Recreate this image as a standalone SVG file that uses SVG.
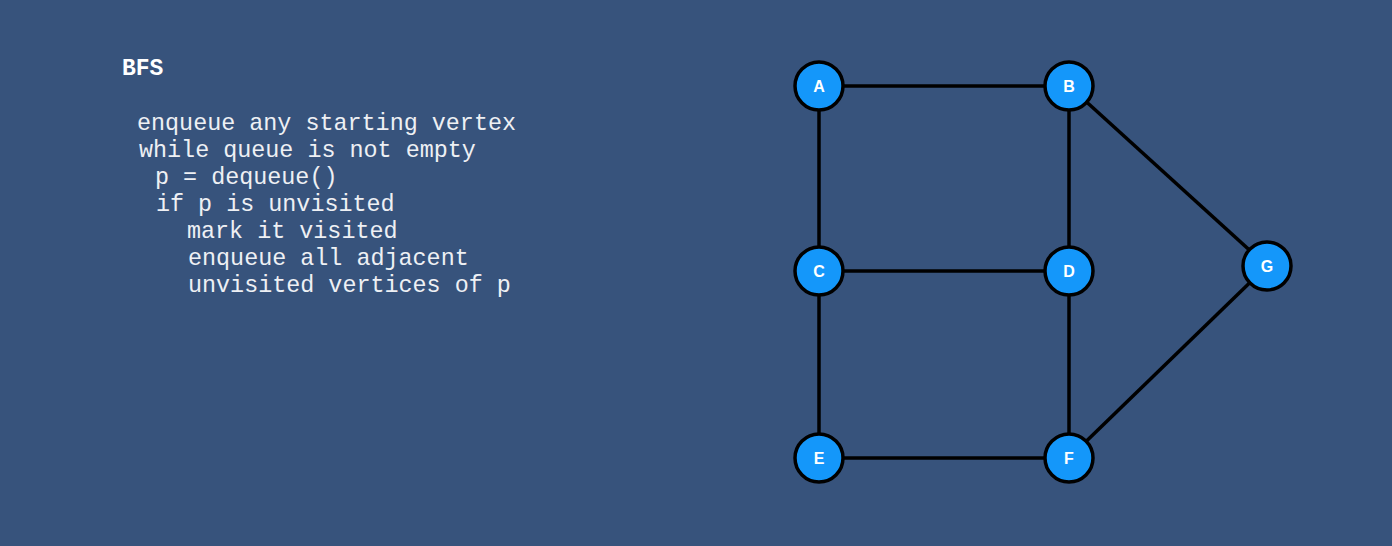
<svg xmlns="http://www.w3.org/2000/svg" width="1392" height="546" viewBox="0 0 1392 546">
<style>
.code{font-family:"Liberation Mono","Courier New",monospace;font-size:23.4px;fill:#eef0f4}
.title{font-family:"Liberation Mono","Courier New",monospace;font-size:23px;font-weight:bold;fill:#ffffff}
.node circle{fill:#1497fa;stroke:#000;stroke-width:3.5}
.node text{font-family:"Liberation Sans",Arial,sans-serif;font-size:16px;font-weight:bold;fill:#fff;text-anchor:middle;dominant-baseline:central}
#edges line{stroke:#000;stroke-width:3.5}
</style>
<rect width="1392" height="546" fill="#37537c"/>
<g id="code">
<text class="title" x="122" y="75">BFS</text>
<text class="code" x="137" y="130">enqueue any starting vertex</text>
<text class="code" x="139" y="157">while queue is not empty</text>
<text class="code" x="155" y="184">p = dequeue()</text>
<text class="code" x="156" y="211">if p is unvisited</text>
<text class="code" x="187" y="238">mark it visited</text>
<text class="code" x="188" y="265">enqueue all adjacent</text>
<text class="code" x="188" y="292">unvisited vertices of p</text>
</g>
<g id="edges">
<line x1="819" y1="86" x2="1069" y2="86"/>
<line x1="819" y1="86" x2="819" y2="271"/>
<line x1="1069" y1="86" x2="1069" y2="271"/>
<line x1="1069" y1="86" x2="1267" y2="266"/>
<line x1="819" y1="271" x2="1069" y2="271"/>
<line x1="819" y1="271" x2="819" y2="458"/>
<line x1="1069" y1="271" x2="1069" y2="458"/>
<line x1="819" y1="458" x2="1069" y2="458"/>
<line x1="1069" y1="458" x2="1267" y2="266"/>
</g>
<g id="node-A" class="node"><circle cx="819" cy="86" r="24"/><text x="819" y="86">A</text></g>
<g id="node-B" class="node"><circle cx="1069" cy="86" r="24"/><text x="1069" y="86">B</text></g>
<g id="node-C" class="node"><circle cx="819" cy="271" r="24"/><text x="819" y="271">C</text></g>
<g id="node-D" class="node"><circle cx="1069" cy="271" r="24"/><text x="1069" y="271">D</text></g>
<g id="node-E" class="node"><circle cx="819" cy="458" r="24"/><text x="819" y="458">E</text></g>
<g id="node-F" class="node"><circle cx="1069" cy="458" r="24"/><text x="1069" y="458">F</text></g>
<g id="node-G" class="node"><circle cx="1267" cy="266" r="24"/><text x="1267" y="266">G</text></g>
</svg>
